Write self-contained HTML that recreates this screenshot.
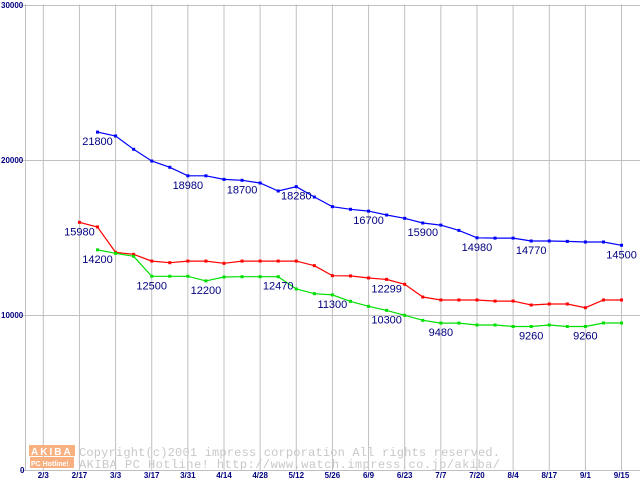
<!DOCTYPE html>
<html><head><meta charset="utf-8"><style>
body{margin:0;background:#fff;width:640px;height:480px;overflow:hidden}
svg{display:block}
</style></head><body>
<svg id="c" width="640" height="480" xmlns="http://www.w3.org/2000/svg" font-family="Liberation Sans, sans-serif"></svg>
<script>
const xLabels=["2/3","2/17","3/3","3/17","3/31","4/14","4/28","5/12","5/26","6/9","6/23","7/7","7/20","8/4","8/17","9/1","9/15"];
const yTicks=[0,10000,20000,30000];
const blueStart=3;
const blueValues=[21800,21550,20690,19935,19530,18980,18980,18750,18690,18516,18000,18280,17610,16990,16820,16700,16450,16237,15935,15800,15460,14980,14960,14960,14775,14775,14750,14710,14710,14500];
const redStart=2;
const redValues=[15980,15680,14040,13915,13480,13375,13480,13480,13333,13480,13480,13480,13480,13183,12537,12520,12390,12299,11980,11160,10970,10970,10970,10900,10900,10645,10710,10710,10470,10970,10970];
const greenStart=3;
const greenValues=[14200,13980,13785,12500,12500,12500,12200,12450,12470,12470,12470,11680,11375,11300,10880,10560,10300,9978,9656,9480,9480,9355,9355,9260,9260,9355,9260,9260,9484,9484];
const blueLabels=[[3,21800],[8,18980],[11,18700],[14,18280],[18,16700],[21,15900],[24,14980],[27,14770],[32,14500]];
const redLabels=[[2,15980],[19,12299]];
const greenLabels=[[3,14200],[6,12500],[9,12200],[13,12470],[16,11300],[19,10300],[22,9480],[27,9260],[30,9260]];

const NS="http://www.w3.org/2000/svg";
const svg=document.getElementById('c');
const X=i=>43.3+18.07*i;
const Y=v=>470-v*0.01550;
function el(t,a,p){const e=document.createElementNS(NS,t);for(const k in a)e.setAttribute(k,a[k]);(p||svg).appendChild(e);return e;}

for(let k=0;k<xLabels.length;k++){
  const g=el('line',{x1:X(2*k),x2:X(2*k),y1:4.5,y2:470,stroke:'#c0c0c0','stroke-width':1});
  
  
  const t=el('text',{x:X(2*k),y:478,'text-anchor':'middle','font-size':8,'font-weight':'bold',fill:'#000080'});
  t.textContent=xLabels[k];
  
  
}
yTicks.forEach(v=>{
  const g=el('line',{x1:21,x2:640,y1:Math.round(Y(v))+0.5,y2:Math.round(Y(v))+0.5,stroke:'#c0c0c0','stroke-width':1});
  
  
  const t=el('text',{x:v===0?20:1,y:Y(v)+3,'font-size':8,'font-weight':'bold',fill:'#000080'});
  t.textContent=String(v);
  
  
});
const ax=el('line',{x1:25.5,x2:25.5,y1:4,y2:470,stroke:'#c0c0c0'});



const wm=el('g',{});


el('rect',{x:29,y:445,width:46,height:11,fill:'#f8b080'},wm);
el('rect',{x:30,y:457,width:44,height:11,fill:'#f8b080'},wm);
const w1=el('text',{x:31,y:455,'font-size':10,'font-weight':'bold',fill:'#fff','letter-spacing':2},wm);w1.textContent='AKIBA';
const w2=el('text',{x:31,y:466,'font-size':7,'font-weight':'bold',fill:'#fff'},wm);w2.textContent='PC Hotline!';
const w3=el('text',{x:79,y:456,'font-size':12,fill:'#c8c8c8','font-family':'Liberation Mono, monospace','textLength':421},wm);w3.textContent='Copyright(c)2001 impress corporation All rights reserved.';
const w4=el('text',{x:79,y:468,'font-size':12,fill:'#c8c8c8','font-family':'Liberation Mono, monospace','textLength':421},wm);w4.textContent='AKIBA PC Hotline!  http://www.watch.impress.co.jp/akiba/';

function series(name,start,vals,color,labels){
  const pts=vals.map((v,j)=>X(start+j).toFixed(1)+','+Y(v).toFixed(1)).join(' ');
  const pl=el('polyline',{points:pts,fill:'none',stroke:color,'stroke-width':1.2});
  
  
  vals.forEach((v,j)=>{
    const r=el('rect',{x:X(start+j)-1.5,y:Y(v)-1.5,width:3,height:3,fill:color});
    
    
  });
  labels.forEach(([i,txt])=>{
    const v=vals[i-start];
    const t=el('text',{x:X(i),y:Y(v)+13,'text-anchor':'middle','font-size':11,fill:'#000080'});
    t.textContent=String(txt);
    
    
  });
}
series('blue-series',blueStart,blueValues,'#0000ff',blueLabels);
series('red-series',redStart,redValues,'#ff0000',redLabels);
series('green-series',greenStart,greenValues,'#00e000',greenLabels);
</script>
</body></html>
